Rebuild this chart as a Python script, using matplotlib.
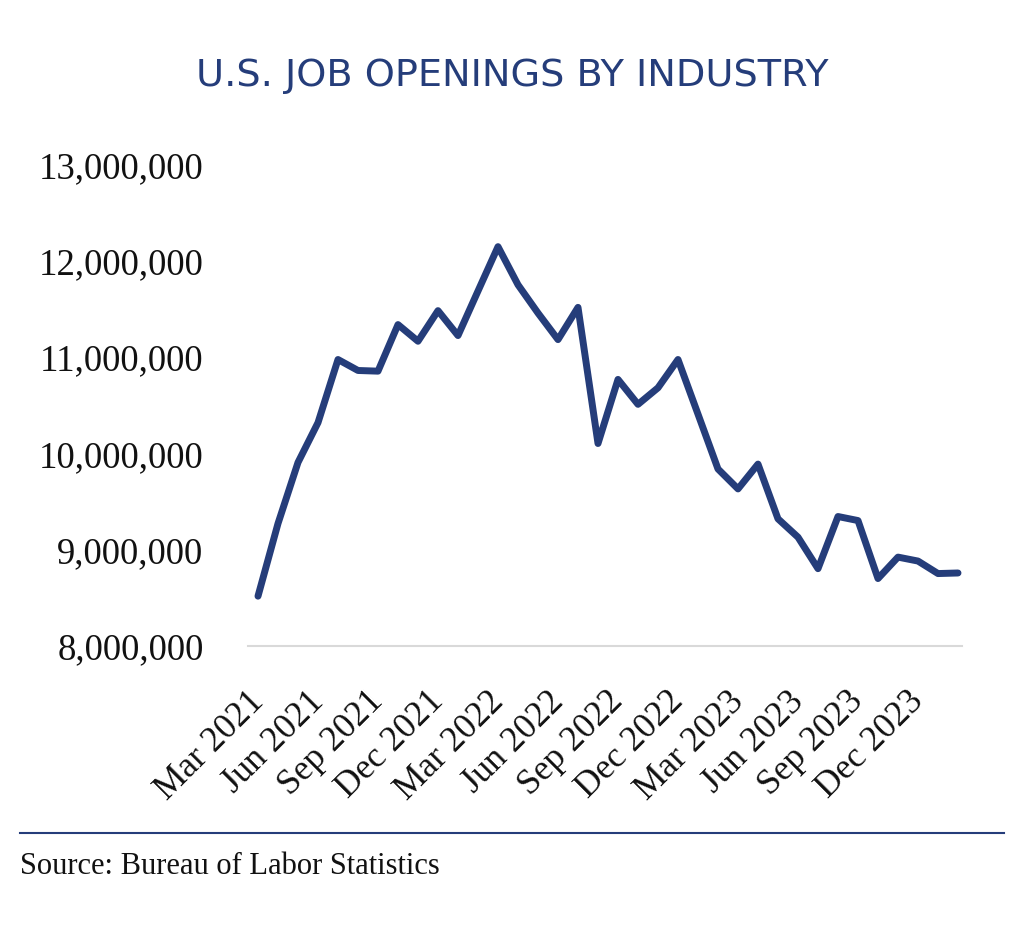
import matplotlib
matplotlib.use('Agg')
import matplotlib.pyplot as plt
import matplotlib.transforms as mtransforms
from matplotlib.lines import Line2D
from matplotlib.ticker import FuncFormatter

# monthly job openings, Mar 2021 - Feb 2024
months = ['Mar 2021', 'Apr 2021', 'May 2021', 'Jun 2021', 'Jul 2021', 'Aug 2021',
          'Sep 2021', 'Oct 2021', 'Nov 2021', 'Dec 2021', 'Jan 2022', 'Feb 2022',
          'Mar 2022', 'Apr 2022', 'May 2022', 'Jun 2022', 'Jul 2022', 'Aug 2022',
          'Sep 2022', 'Oct 2022', 'Nov 2022', 'Dec 2022', 'Jan 2023', 'Feb 2023',
          'Mar 2023', 'Apr 2023', 'May 2023', 'Jun 2023', 'Jul 2023', 'Aug 2023',
          'Sep 2023', 'Oct 2023', 'Nov 2023', 'Dec 2023', 'Jan 2024', 'Feb 2024']
openings = [8518000, 9273000, 9908000, 10322000, 10978000, 10864000,
            10857000, 11341000, 11168000, 11486000, 11227000, 11690000,
            12151000, 11755000, 11461000, 11185000, 11520000, 10105000,
            10771000, 10512000, 10684000, 10978000, 10410000, 9840000,
            9633000, 9891000, 9322000, 9131000, 8804000, 9346000,
            9304000, 8701000, 8924000, 8883000, 8753000, 8759000]
tick_months = months[::3][:12]

navy = '#253d7a'
serif = ['Liberation Serif', 'DejaVu Serif']

fig = plt.figure(figsize=(10.24, 9.42), dpi=100)
ax = fig.add_axes([248 / 1024, 1 - 646 / 942, 714 / 1024, 481 / 942])

x = list(range(len(openings)))
ax.plot(x, openings, color=navy, linewidth=5, solid_joinstyle='round', solid_capstyle='round')

ax.set_ylim(8000000, 13000000)
ax.set_xlim(-0.5, 35.2)
ax.set_yticks(range(8000000, 13000001, 1000000))
ax.yaxis.set_major_formatter(FuncFormatter(lambda v, p: f'{int(v):,}'))
ax.set_xticks([months.index(m) for m in tick_months])
ax.set_xticklabels([])

for lbl in ax.get_yticklabels():
    lbl.set_family(serif)
    lbl.set_fontsize(26.5)
    lbl.set_color('#111111')

# rotated month labels, placed under each tick
base = ax.get_xaxis_transform()
shift = mtransforms.ScaledTranslation(-0.11, -0.39, fig.dpi_scale_trans)
for m in tick_months:
    ax.text(months.index(m), 0, m, transform=base + shift, rotation=45,
            ha='right', va='top', rotation_mode='anchor',
            fontsize=25.5, family=serif, color='#111111')

ax.tick_params(axis='both', length=0)
ax.tick_params(axis='y', pad=32)
for side in ['top', 'right', 'left']:
    ax.spines[side].set_visible(False)
ax.spines['bottom'].set_color('#d9d9d9')
ax.spines['bottom'].set_linewidth(1.5)

fig.text(0.5, 1 - 76 / 942, 'U.S. JOB OPENINGS BY INDUSTRY', ha='center', va='center',
         fontsize=27.5, color=navy, family='DejaVu Sans')

fig.add_artist(Line2D([20 / 1024, 1004 / 1024], [1 - 833 / 942, 1 - 833 / 942],
                      color=navy, linewidth=1.5))
fig.text(20 / 1024, 1 - 866 / 942, 'Source: Bureau of Labor Statistics', ha='left', va='center',
         fontsize=22, color='#111111', family=serif)

fig.savefig('out.png', dpi=100, facecolor='white')
